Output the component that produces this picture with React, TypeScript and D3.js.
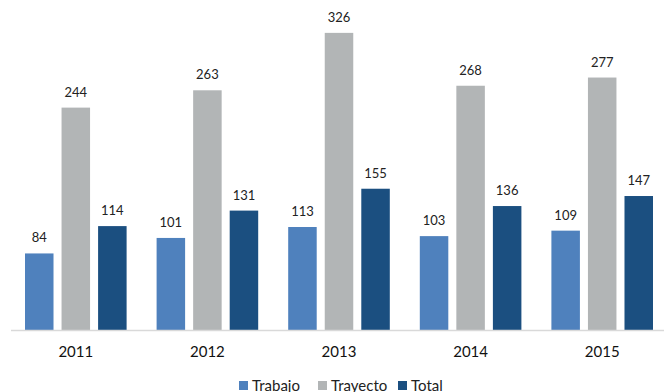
import React from "react";
import * as d3 from "d3";

const years = ["2011", "2012", "2013", "2014", "2015"];
const series = ["Trabajo", "Trayecto", "Total"];
const trabajo = [84, 101, 113, 103, 109];
const trayecto = [244, 263, 326, 268, 277];
const total = [114, 131, 155, 136, 147];
const colors = ["#4F81BD", "#B2B5B6", "#1B4F80"];

const W = 664, H = 392;
const FONT = "Lato, 'Open Sans', sans-serif";

export default function App() {
  const values = [trabajo, trayecto, total];
  const x0 = d3.scaleBand<string>().domain(years).range([10, 668]).paddingInner(0).paddingOuter(0);
  const x1 = d3.scaleBand<string>().domain(series).range([15, x0.bandwidth() - 15]).paddingInner(0.22).paddingOuter(0);
  const y = d3.scaleLinear().domain([0, 350]).range([330, 11]);

  return (
    <svg width={W} height={H} style={{ position: "absolute", left: 0, top: 0, background: "#fff" }}>
      {years.map((yr, i) => (
        <g key={yr} transform={`translate(${x0(yr)},0)`}>
          {series.map((s, j) => {
            const v = values[j][i];
            const bx = x1(s)!;
            return (
              <g key={s}>
                <rect x={bx} y={y(v)} width={x1.bandwidth()} height={y(0) - y(v)} fill={colors[j]} />
                <text x={bx + x1.bandwidth() / 2} y={y(v) - 11} textAnchor="middle" fontFamily={FONT} fontSize={13} fill="#222">{v}</text>
              </g>
            );
          })}
          <text x={x0.bandwidth() / 2} y={357} textAnchor="middle" fontFamily={FONT} fontSize={15} fill="#111">{yr}</text>
        </g>
      ))}
      <line x1={11} x2={664} y1={330.5} y2={330.5} stroke="#D9D9D9" strokeWidth={1.5} />
      <g transform="translate(0,0)">
        {series.map((s, j) => {
          const offs = [239, 318, 398];
          return (
            <g key={s}>
              <rect x={offs[j]} y={381} width={9} height={9} fill={colors[j]} />
              <text x={offs[j] + 13} y={391} fontFamily={FONT} fontSize={15} fill="#222">{s}</text>
            </g>
          );
        })}
      </g>
    </svg>
  );
}
